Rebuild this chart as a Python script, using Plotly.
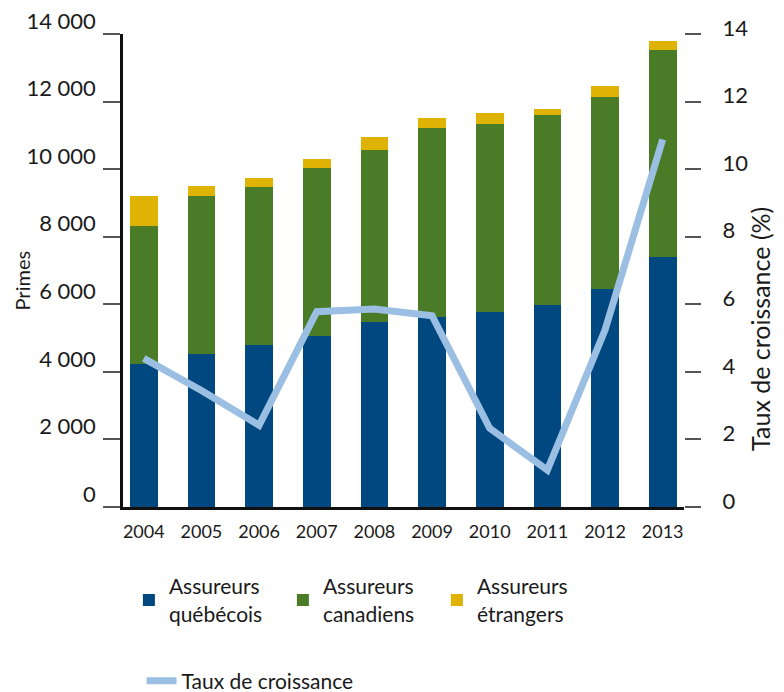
import plotly.graph_objects as go

years = ["2004", "2005", "2006", "2007", "2008", "2009", "2010", "2011", "2012", "2013"]
quebecois = [4230, 4530, 4800, 5070, 5490, 5610, 5780, 5980, 6460, 7400]
canadiens = [4100, 4690, 4680, 4950, 5090, 5620, 5570, 5610, 5690, 6120]
etrangers = [890, 290, 270, 290, 360, 270, 300, 180, 300, 260]
croissance = [4.40, 3.45, 2.42, 5.78, 5.86, 5.66, 2.33, 1.09, 5.24, 10.88]

FONT = "Lato"
BLUE = "#00487f"
GREEN = "#4a7c28"
YELLOW = "#deb304"
LIGHT = "#9bbfe3"

fig = go.Figure()
fig.add_trace(go.Bar(x=years, y=quebecois, name="Assureurs<br>québécois",
                     marker=dict(color=BLUE, line=dict(width=0)), legend="legend"))
fig.add_trace(go.Bar(x=years, y=canadiens, name="Assureurs<br>canadiens",
                     marker=dict(color=GREEN, line=dict(width=0)), legend="legend"))
fig.add_trace(go.Bar(x=years, y=etrangers, name="Assureurs<br>étrangers",
                     marker=dict(color=YELLOW, line=dict(width=0)), legend="legend"))
fig.add_trace(go.Scatter(x=years, y=croissance, name="Taux de croissance", yaxis="y2",
                         mode="lines", line=dict(color=LIGHT, width=7), legend="legend2"))

# the page body adds an 8px offset, so the figure is 8px smaller and shifted accordingly
fig.update_layout(
    template="none",
    width=776, height=684,
    margin=dict(l=115, r=100, t=26, b=185, autoexpand=False),
    paper_bgcolor="white", plot_bgcolor="white",
    barmode="stack", bargap=0.52,
    separators=", ",
    font=dict(family=FONT, color="#1a1a1a", size=20),
    xaxis=dict(type="category", range=[-0.36, 9.37], showline=True, linecolor="#111",
               linewidth=2.5, ticks="", showgrid=False, zeroline=False, automargin=False,
               tickfont=dict(size=18), ticklabelstandoff=7),
    yaxis=dict(range=[0, 14000], tickvals=[0, 2000, 4000, 6000, 8000, 10000, 12000, 14000],
               separatethousands=True, tickformat=",d", automargin=False,
               showline=True, linecolor="#111", linewidth=2.5, ticks="outside", ticklen=17,
               tickcolor="#555", tickwidth=1.5, showgrid=False, zeroline=False,
               tickfont=dict(size=22), ticklabelshift=-13, ticklabelstandoff=3,
               ticklabeloverflow="allow"),
    yaxis2=dict(range=[0, 14], tickvals=[0, 2, 4, 6, 8, 10, 12, 14], overlaying="y", side="right",
                showline=False, ticks="outside", ticklen=16, tickcolor="#555", tickwidth=1.5,
                showgrid=False, zeroline=False, tickfont=dict(size=22), automargin=False,
                ticklabelshift=-6, ticklabelstandoff=17, ticklabeloverflow="allow"),
    legend=dict(orientation="h", x=0.0105, y=-0.125, xanchor="left", yanchor="top",
                font=dict(size=21), entrywidth=109, entrywidthmode="pixels",
                traceorder="normal", valign="middle", bgcolor="rgba(0,0,0,0)"),
    legend2=dict(orientation="h", x=0.033, y=-0.368, xanchor="left", yanchor="middle",
                 font=dict(size=21), bgcolor="rgba(0,0,0,0)"),
    annotations=[
        dict(text="Primes", xref="paper", yref="paper", x=-0.18, y=0.479, textangle=-90,
             showarrow=False, font=dict(size=20), xanchor="center", yanchor="middle"),
        dict(text="Taux de croissance (%)", xref="paper", yref="paper", x=1.135, y=0.376,
             textangle=-90, showarrow=False, font=dict(size=25), xanchor="center", yanchor="middle"),
    ],
)

fig.write_html("out.html")
